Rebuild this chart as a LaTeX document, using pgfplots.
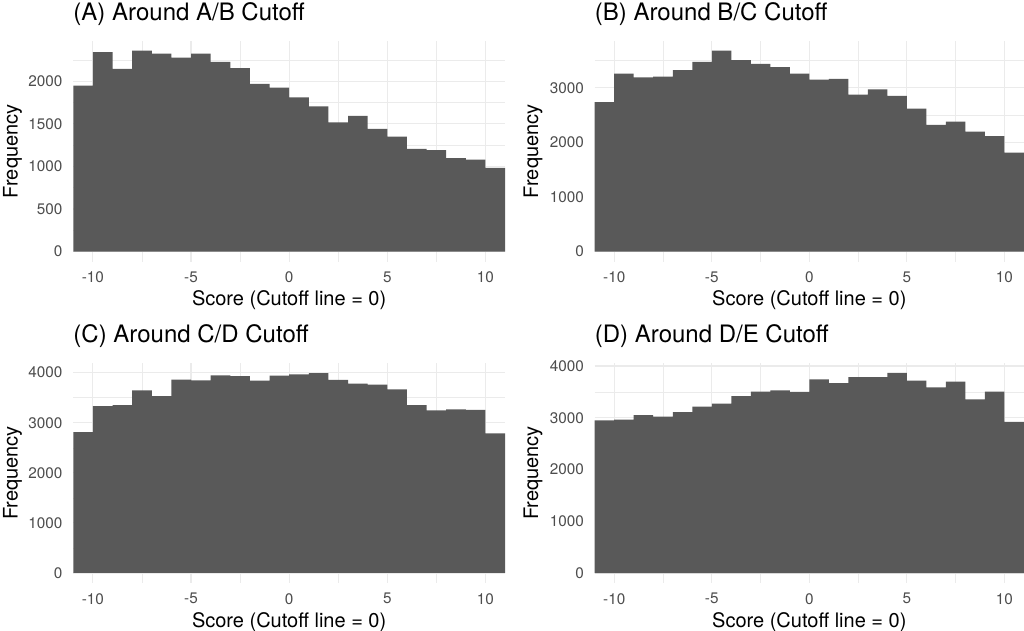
\documentclass[border=0pt]{standalone}
\usepackage{fontspec}
\setmainfont{TeX Gyre Heros}
\usepackage{pgfplots}
\pgfplotsset{compat=1.18}
\definecolor{barcol}{HTML}{595959}
\definecolor{gridcol}{HTML}{EBEBEB}
\definecolor{tickcol}{HTML}{4D4D4D}
\newcommand\tickfont{\fontsize{15.3bp}{17bp}\selectfont}
\newcommand\labfont{\fontsize{20bp}{23bp}\selectfont}
\newcommand\titfont{\fontsize{24bp}{28bp}\selectfont}
\pgfplotsset{
  myhist/.style={
    scale only axis,
    anchor=south west,
    xmin=-11, xmax=11,
    axis line style={draw=none},
    major tick length=0pt, minor tick length=0pt,
    xtick={-10,-5,0,5,10},
    xticklabels={-10,-5,0,5,10},
    minor xtick={-7.5,-2.5,2.5,7.5},
    grid=both,
    major grid style={draw=gridcol, line width=1.1bp},
    minor grid style={draw=gridcol, line width=0.55bp},
    tick label style={font=\tickfont, text=tickcol, inner sep=0pt},
    yticklabel style={anchor=east, xshift=-10.6bp},
    xticklabel style={anchor=north, yshift=-10bp},
    xlabel={Score (Cutoff line = 0)},
    ylabel={Frequency},
    xlabel style={at={(axis description cs:0.5,0)}, anchor=base, inner sep=0pt, yshift=-44.3bp, font=\labfont},
    title style={at={(axis description cs:0,1)}, anchor=base west, inner sep=0pt, yshift=14.5bp, font=\titfont},
  },
  histplot/.style={const plot, fill=barcol, draw=none},
}
\begin{document}
\begin{tikzpicture}
\path[use as bounding box] (0,0) rectangle (1024bp,631bp);

% Panel A
\begin{axis}[myhist,
  at={(73.3bp,369.3bp)}, width=431.7bp, height=221bp,
  ymin=-118, ymax=2476,
  ytick={0,500,1000,1500,2000},
  yticklabels={0,500,1000,1500,2000},
  minor ytick={250,750,1250,1750,2250},
  ylabel style={at={(axis description cs:-0.129,0.5)}, anchor=base, inner sep=0pt, font=\labfont},
  title={(A) Around A/B Cutoff}]
\addplot[histplot] coordinates {
(-11,0) (-11,1949) (-10,2343) (-9,2146) (-8,2358) (-7,2323) (-6,2276)
(-5,2323) (-4,2228) (-3,2154) (-2,1969) (-1,1925) (0,1811) (1,1705)
(2,1516) (3,1594) (4,1441) (5,1350) (6,1205) (7,1193) (8,1098)
(9,1079) (10,984) (11,984) (11,0)};
\end{axis}

% Panel B
\begin{axis}[myhist,
  at={(594.7bp,369.3bp)}, width=429.3bp, height=221bp,
  ymin=-184, ymax=3860,
  ytick={0,1000,2000,3000},
  yticklabels={0,1000,2000,3000},
  minor ytick={500,1500,2500,3500},
  ylabel style={at={(axis description cs:-0.132,0.5)}, anchor=base, inner sep=0pt, font=\labfont},
  title={(B) Around B/C Cutoff}]
\addplot[histplot] coordinates {
(-11,0) (-11,2736) (-10,3258) (-9,3190) (-8,3203) (-7,3320) (-6,3473)
(-5,3676) (-4,3504) (-3,3436) (-2,3375) (-1,3258) (0,3147) (1,3160)
(2,2871) (3,2969) (4,2852) (5,2619) (6,2318) (7,2379) (8,2195)
(9,2115) (10,1813) (11,1813) (11,0)};
\end{axis}

% Panel C
\begin{axis}[myhist,
  at={(73.3bp,48bp)}, width=431.7bp, height=220bp,
  ymin=-200, ymax=4193,
  ytick={0,1000,2000,3000,4000},
  yticklabels={0,1000,2000,3000,4000},
  minor ytick={500,1500,2500,3500},
  ylabel style={at={(axis description cs:-0.129,0.5)}, anchor=base, inner sep=0pt, font=\labfont},
  title={(C) Around C/D Cutoff}]
\addplot[histplot] coordinates {
(-11,0) (-11,2815) (-10,3334) (-9,3354) (-8,3647) (-7,3534) (-6,3860)
(-5,3847) (-4,3947) (-3,3933) (-2,3840) (-1,3940) (0,3967) (1,3993)
(2,3854) (3,3780) (4,3760) (5,3667) (6,3354) (7,3248) (8,3268)
(9,3255) (10,2789) (11,2789) (11,0)};
\end{axis}

% Panel D
\begin{axis}[myhist,
  at={(594.7bp,48bp)}, width=429.3bp, height=220bp,
  ymin=-193, ymax=4058,
  ytick={0,1000,2000,3000,4000},
  yticklabels={0,1000,2000,3000,4000},
  minor ytick={500,1500,2500,3500},
  ylabel style={at={(axis description cs:-0.132,0.5)}, anchor=base, inner sep=0pt, font=\labfont},
  title={(D) Around D/E Cutoff}]
\addplot[histplot] coordinates {
(-11,0) (-11,2950) (-10,2963) (-9,3053) (-8,3021) (-7,3111) (-6,3214)
(-5,3272) (-4,3420) (-3,3504) (-2,3530) (-1,3498) (0,3742) (1,3671)
(2,3787) (3,3787) (4,3865) (5,3717) (6,3588) (7,3697) (8,3356)
(9,3504) (10,2918) (11,2918) (11,0)};
\end{axis}
\end{tikzpicture}
\end{document}
